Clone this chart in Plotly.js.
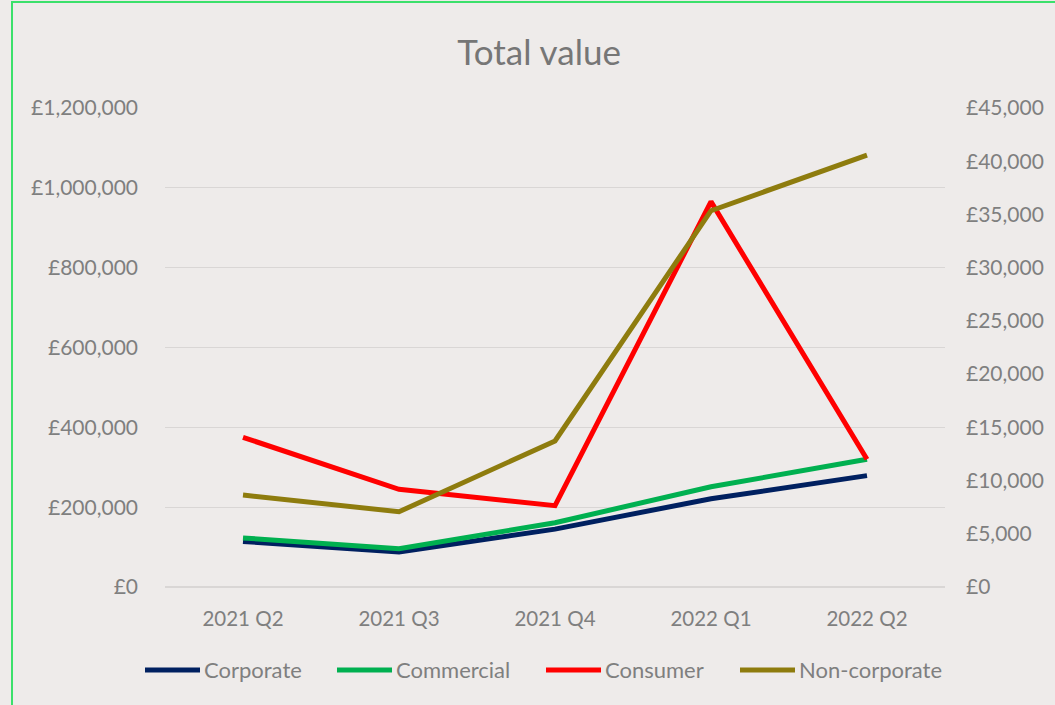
<!DOCTYPE html>
<html>
<head>
<meta charset="utf-8">
<script src="https://cdn.plot.ly/plotly-3.0.1.min.js"></script>
<style>
  html, body { margin: 0; padding: 0; width: 1055px; height: 705px; overflow: hidden; background: #EEEBEA; }
  #chart { position: absolute; left: 0; top: 0; width: 1055px; height: 705px; }
  #frame { position: absolute; left: 11px; top: 1px; width: 1100px; height: 800px; border: 2px solid #3BE06B; pointer-events: none; box-sizing: border-box; }
</style>
</head>
<body>
<div id="chart"></div>
<div id="frame"></div>
<script>
const categories = ["2021 Q2", "2021 Q3", "2021 Q4", "2022 Q1", "2022 Q2"];
const seriesNames = ["Corporate", "Commercial", "Consumer", "Non-corporate"];
const corporate = [114000, 88000, 145000, 221000, 279000];
const commercial = [123000, 96000, 161000, 251000, 320000];
const consumer = [14060, 9180, 7640, 36200, 12000];
const nonCorporate = [8640, 7070, 13720, 35350, 40580];

const font = "Lato, 'Open Sans', sans-serif";
const gray = "#7F7F7F";
const colors = ["#002060", "#00B050", "#FF0000", "#8E7C0E"];
const values = [corporate, commercial, consumer, nonCorporate];
const axes = ["y", "y", "y2", "y2"];

const traces = seriesNames.map((n, i) => ({
  type: "scatter", mode: "lines", name: n, x: categories, y: values[i], yaxis: axes[i],
  line: {color: colors[i], width: 5}, showlegend: false
}));

// custom legend (plot area: left 165, right 945, top 108, bottom 587)
const L = 165, W = 780, B = 587, H = 479;
const px = v => (v - L) / W;
const py = v => (B - v) / H;
const legendY = 670;
const legendLineStart = [145, 337, 546, 740];
const shapes = [], annotations = [];
seriesNames.forEach((n, i) => {
  const x0 = legendLineStart[i];
  shapes.push({type: "line", xref: "paper", yref: "paper",
    x0: px(x0), x1: px(x0 + 55), y0: py(legendY), y1: py(legendY),
    line: {color: colors[i], width: 5}});
  annotations.push({xref: "paper", yref: "paper", x: px(x0 + 57), y: py(legendY - 1),
    xanchor: "left", yanchor: "middle", showarrow: false, text: n,
    font: {family: font, size: 22, color: gray}});
});

const layout = {
  width: 1055, height: 705,
  paper_bgcolor: "#EEEBEA", plot_bgcolor: "#EEEBEA",
  margin: {l: 165, r: 110, t: 108, b: 118},
  font: {family: font, color: gray, size: 21},
  title: {text: "Total value", font: {family: font, size: 35, color: "#767676"},
          x: 0.511, xref: "container", xanchor: "center", y: 0.925, yref: "container", yanchor: "middle"},
  xaxis: {type: "category", range: [-0.5, 4.5], showgrid: false, showline: false, zeroline: false,
          ticks: "", tickfont: {size: 20.5, color: gray}, ticklabelstandoff: 17},
  yaxis: {range: [0, 1200000], dtick: 200000, tick0: 0, tickprefix: "£", tickformat: ",.0f",
          showgrid: true, gridcolor: "#D9D6D5", gridwidth: 1.2, zeroline: true, zerolinecolor: "#D9D6D5", zerolinewidth: 1.2,
          showline: false, ticks: "", tickfont: {size: 21, color: gray}, ticklabelstandoff: 26},
  yaxis2: {range: [0, 45000], dtick: 5000, tick0: 0, tickprefix: "£", tickformat: ",.0f",
           overlaying: "y", side: "right", showgrid: false, zeroline: false, showline: false, ticks: "",
           tickfont: {size: 21, color: gray}, ticklabelstandoff: 20},
  showlegend: false,
  shapes: shapes,
  annotations: annotations
};

Plotly.newPlot("chart", traces, layout, {displayModeBar: false, staticPlot: true});
</script>
</body>
</html>
